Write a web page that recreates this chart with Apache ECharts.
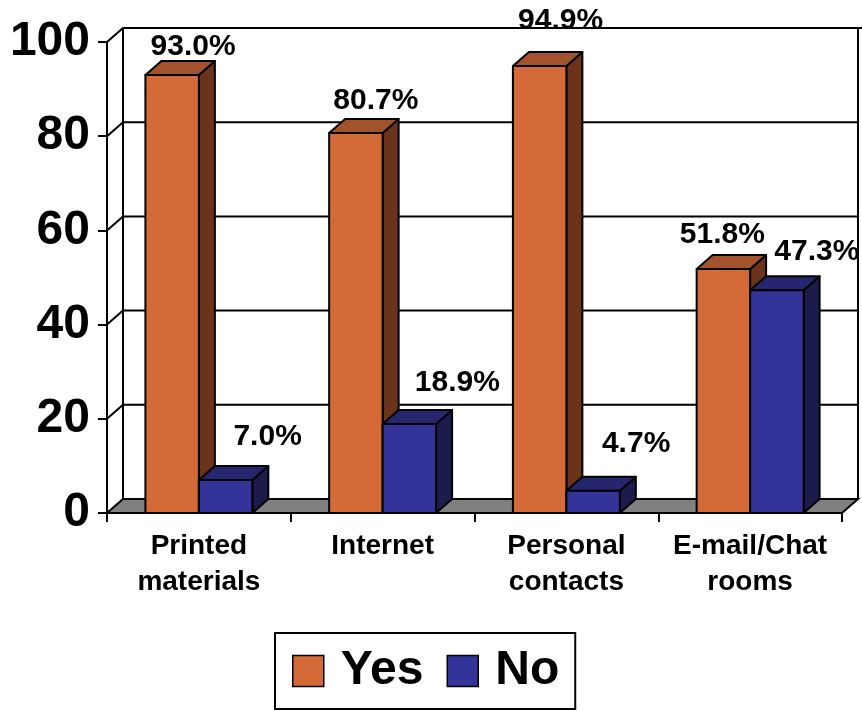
<!DOCTYPE html>
<html>
<head>
<meta charset="utf-8">
<script src="https://cdn.jsdelivr.net/npm/echarts@6/dist/echarts.min.js"></script>
<style>html,body{margin:0;padding:0;background:#fff;}#c{width:862px;height:711px;}</style>
</head>
<body>
<div id="c"></div>
<script>
// ---- data ----
const categories = ['Printed\nmaterials', 'Internet', 'Personal\ncontacts', 'E-mail/Chat\nrooms'];
const yesValues = [93.0, 80.7, 94.9, 51.8];
const noValues = [7.0, 18.9, 4.7, 47.3];
const yTicks = [0, 20, 40, 60, 80, 100];
const seriesNames = ['Yes', 'No'];

// ---- style ----
const FONT = '"Liberation Sans", Arial, Helvetica, sans-serif';
const DX = 16, DY = -14;            // 3D depth offset
const BAR_FRAC = 0.291;             // bar width as fraction of category width
const yesColors = { front: '#D36A38', top: '#A3532C', side: '#6B341A' };
const noColors = { front: '#333399', top: '#26266F', side: '#1C1C4C' };
// label offsets (pixels) relative to front-face centre / top
const yesLabelOffset = [[21, -28], [20, -32], [21, -45], [-1, -34]];
const noLabelOffset = [[42, -43], [48, -41], [43, -47], [40, -38]];

const chart = echarts.init(document.getElementById('c'), null, { renderer: 'canvas' });

function frameRender(params, api) {
  const cs = params.coordSys;
  const x0 = cs.x, x1 = cs.x + cs.width;
  const children = [];
  const y0 = api.coord([0, 0])[1];
  const yTop = api.coord([0, yTicks[yTicks.length - 1]])[1];
  // floor
  children.push({
    type: 'polygon',
    shape: { points: [[x0, y0], [x1, y0], [x1 + DX, y0 + DY], [x0 + DX, y0 + DY]] },
    style: { fill: '#808080', stroke: '#000', lineWidth: 2 }
  });
  // back wall vertical edges
  children.push({ type: 'line', shape: { x1: x0 + DX, y1: yTop + DY, x2: x0 + DX, y2: y0 + DY }, style: { stroke: '#000', lineWidth: 2 } });
  children.push({ type: 'line', shape: { x1: x1 + DX, y1: yTop + DY, x2: x1 + DX, y2: y0 + DY }, style: { stroke: '#000', lineWidth: 2 } });
  // gridlines: left wall diagonal + back wall horizontal
  yTicks.forEach(function (v) {
    if (v === 0) return;
    const y = api.coord([0, v])[1];
    children.push({
      type: 'polyline',
      shape: { points: [[x0, y], [x0 + DX, y + DY], [x1 + DX + (v === 100 ? 10 : 0), y + DY]] },
      style: { stroke: '#000', lineWidth: 2, fill: null }
    });
  });
  return { type: 'group', children: children };
}

function makeBarRender(side, colors, offsets, values) {
  return function (params, api) {
    const ci = api.value(0), v = api.value(1);
    const top = api.coord([ci, v]);
    const base = api.coord([ci, 0]);
    const cw = api.size([1, 0])[0];
    const bw = cw * BAR_FRAC;
    const xa = side === 0 ? top[0] - bw : top[0];
    const xb = xa + bw;
    const yt = top[1], yb = base[1];
    const st = { stroke: '#000', lineWidth: 2, lineJoin: 'round' };
    const off = offsets[params.dataIndex];
    return {
      type: 'group',
      children: [
        { type: 'polygon', shape: { points: [[xb, yb], [xb + DX, yb + DY], [xb + DX, yt + DY], [xb, yt]] }, style: Object.assign({ fill: colors.side }, st) },
        { type: 'polygon', shape: { points: [[xa, yt], [xb, yt], [xb + DX, yt + DY], [xa + DX, yt + DY]] }, style: Object.assign({ fill: colors.top }, st) },
        { type: 'polygon', shape: { points: [[xa, yb], [xb, yb], [xb, yt], [xa, yt]] }, style: Object.assign({ fill: colors.front }, st) },
        {
          type: 'text', z2: 100,
          style: {
            x: (xa + xb) / 2 + off[0], y: yt + off[1],
            text: values[params.dataIndex].toFixed(1) + '%',
            fill: '#000', font: 'bold 30px ' + FONT, align: 'center', verticalAlign: 'middle'
          }
        }
      ]
    };
  };
}

const option = {
  backgroundColor: '#fff',
  animation: false,
  grid: { left: 107, right: 20, top: 42, bottom: 198, containLabel: false },
  legend: {
    data: seriesNames,
    left: 275, top: 633,
    padding: [10, 16, 10, 17],
    itemGap: 23,
    itemWidth: 31, itemHeight: 31,
    icon: 'rect',
    borderColor: '#000', borderWidth: 2,
    itemStyle: { borderColor: '#000', borderWidth: 1.5 },
    textStyle: { fontSize: 48, fontWeight: 'bold', color: '#000', fontFamily: FONT, lineHeight: 56, padding: [0, 0, 0, 12] }
  },
  xAxis: {
    type: 'category',
    data: categories,
    axisLine: { show: true, lineStyle: { color: '#000', width: 2 } },
    axisTick: { show: true, length: 9, lineStyle: { color: '#000', width: 2 } },
    axisLabel: { fontSize: 28, fontWeight: 'bold', color: '#000', fontFamily: FONT, lineHeight: 36, margin: 15, interval: 0 },
    splitLine: { show: false }
  },
  yAxis: {
    type: 'value', min: 0, max: 100, interval: 20,
    axisLine: { show: true, lineStyle: { color: '#000', width: 2 } },
    axisTick: { show: true, length: 9, lineStyle: { color: '#000', width: 2 } },
    axisLabel: { fontSize: 48, fontWeight: 'bold', color: '#000', fontFamily: FONT, margin: 17 },
    splitLine: { show: false }
  },
  series: [
    {
      type: 'custom', name: '_frame', z: 1, silent: true, clip: false,
      renderItem: frameRender,
      data: [[0, 0]]
    },
    {
      type: 'custom', name: 'Yes', z: 3, clip: false,
      itemStyle: { color: yesColors.front },
      renderItem: makeBarRender(0, yesColors, yesLabelOffset, yesValues),
      data: yesValues.map(function (v, i) { return [i, v]; })
    },
    {
      type: 'custom', name: 'No', z: 4, clip: false,
      itemStyle: { color: noColors.front },
      renderItem: makeBarRender(1, noColors, noLabelOffset, noValues),
      data: noValues.map(function (v, i) { return [i, v]; })
    }
  ]
};
chart.setOption(option);
</script>
</body>
</html>
